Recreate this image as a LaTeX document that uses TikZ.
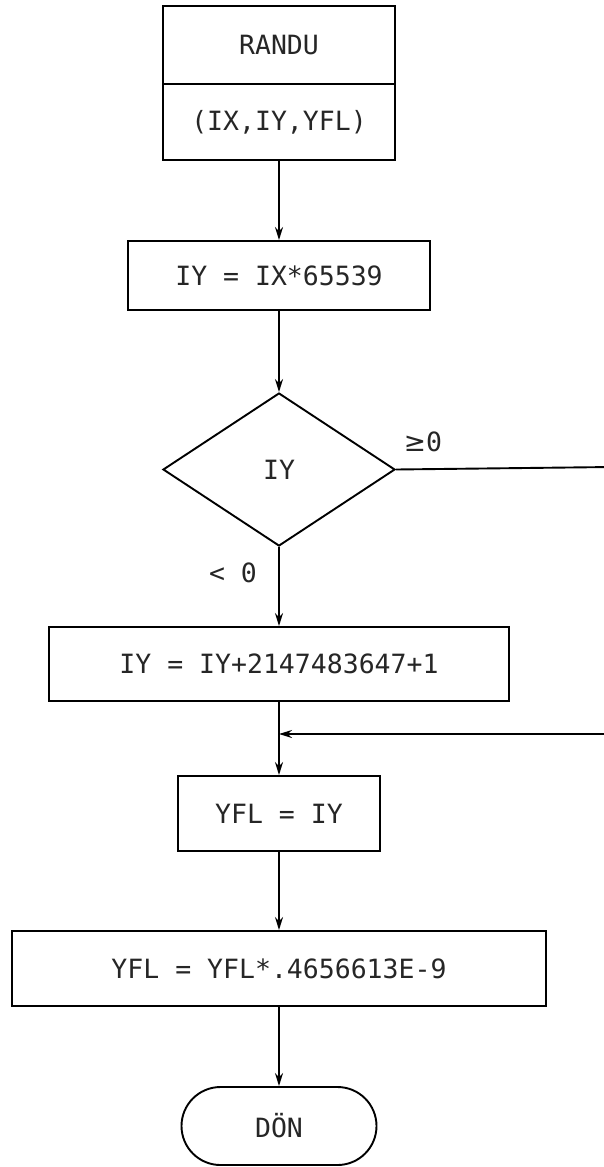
\documentclass[tikz,border=0pt]{standalone}
\usepackage{fontspec}
\setmonofont{DejaVu Sans Mono}
\newfontfamily\symfont{DejaVu Sans}
\usetikzlibrary{arrows.meta,shapes.geometric}
\begin{document}
\begin{tikzpicture}[x=1pt,y=-1pt,
  every node/.style={font=\ttfamily\fontsize{26.5}{30}\selectfont, inner sep=0pt, text=black!85},
  flow/.style={line width=1.9pt, -{Stealth[length=13pt,width=8pt]}},
  plain/.style={line width=1.9pt},
  box/.style={draw, line width=1.9pt, rectangle},
  term/.style={draw, line width=1.9pt, rectangle, rounded corners=39pt},
  decision/.style={draw, line width=1.9pt, diamond, aspect=1.516}
]
\useasboundingbox (0,0) rectangle (604,1167);
\fill[white] (0,0) rectangle (604,1167);

\node[box, minimum width=232pt, minimum height=78pt] (randu) at (279,45) {RANDU};
\node[box, minimum width=232pt, minimum height=76pt] (args) at (279,122) {(IX,IY,YFL)};
\node[box, minimum width=302pt, minimum height=69pt] (b1) at (279,275.5) {IY = IX*65539};
\node[decision, minimum width=232pt, minimum height=153pt] (dia) at (279,469.5) {IY};
\node[box, minimum width=460pt, minimum height=74pt] (b2) at (279,664) {IY = IY+2147483647+1};
\node[box, minimum width=202pt, minimum height=75pt] (b3) at (279,813.5) {YFL = IY};
\node[box, minimum width=534pt, minimum height=75pt] (b4) at (279,968.5) {YFL = YFL*.4656613E-9};
\node[term, minimum width=195pt, minimum height=78pt] (ret) at (279,1126) {DÖN};

\node (lge) at (423,442) {{\symfont ≥}0};
\node (llt) at (233,573) {< 0};

\coordinate (m) at (279,734);
\coordinate (r1) at (612,467);
\coordinate (r2) at (612,734);

\draw[flow] (args.south) -- (b1.north);
\draw[flow] (b1.south) -- (dia.north);
\draw[flow] (dia.south) -- (b2.north);
\draw[flow] (b2.south) -- (b3.north);
\draw[plain] (dia.east) -- (r1) -- (r2);
\draw[flow] (r2) -- (m);
\draw[flow] (b3.south) -- (b4.north);
\draw[flow] (b4.south) -- (ret.north);
\end{tikzpicture}
\end{document}
